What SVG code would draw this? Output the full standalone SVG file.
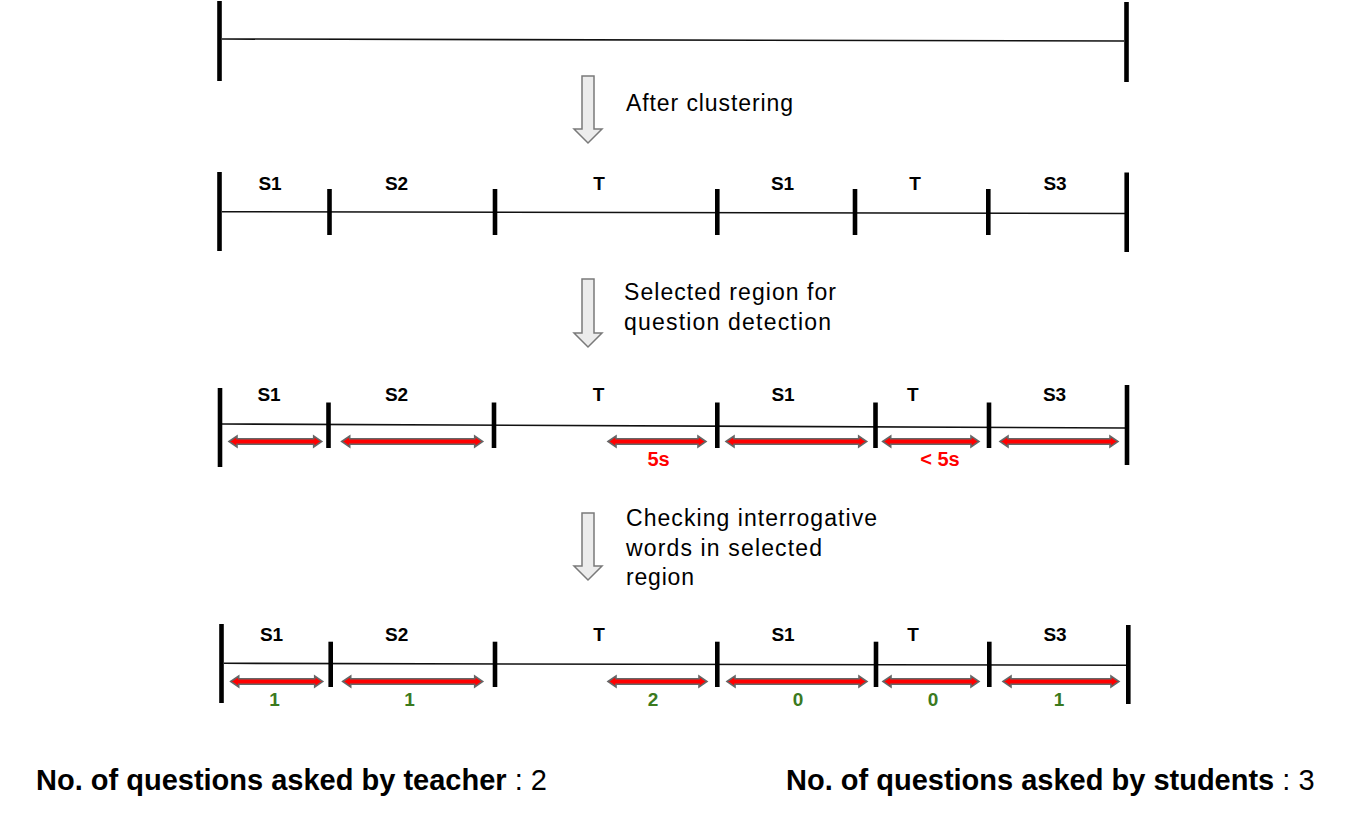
<svg xmlns="http://www.w3.org/2000/svg" width="1350" height="815" viewBox="0 0 1350 815">
<style>
.bar{stroke:#000;stroke-width:4.6;fill:none}
.ln{stroke:#111;stroke-width:1.6;fill:none}
.lab{font-family:"Liberation Sans",Arial,sans-serif;font-weight:bold;font-size:19px;fill:#000;text-anchor:middle}
.red{font-family:"Liberation Sans",Arial,sans-serif;font-weight:bold;font-size:20px;fill:#ff0000;text-anchor:middle}
.grn{font-family:"Liberation Sans",Arial,sans-serif;font-weight:bold;font-size:19px;fill:#3b7a1e;text-anchor:middle}
.step{font-family:"Liberation Sans",Arial,sans-serif;font-size:23px;fill:#000}
.down{fill:#ececec;stroke:#7a7a7a;stroke-width:1.5}
.dbl{fill:#ff0000;stroke:#666;stroke-width:1.6;stroke-linejoin:miter}
.sum{font-family:"Liberation Sans",Arial,sans-serif;font-size:29px;fill:#000}
</style>
<rect width="1350" height="815" fill="#fff"/>

<g id="timeline-raw">
<line class="ln" x1="222" y1="39" x2="1124" y2="41"/>
<line class="bar" x1="219.5" y1="1" x2="219.5" y2="81"/>
<line class="bar" x1="1126.5" y1="2" x2="1126.5" y2="82"/>
</g>

<g id="step-clustering">
<polygon class="down" points="582,76 594,76 594,129 602,129 588,143 574,129 582,129"/>
<text class="step" x="626" y="111" textLength="167" lengthAdjust="spacing">After clustering</text>
</g>

<g id="timeline-clustered">
<line class="ln" x1="222" y1="211.7" x2="1125" y2="213.5"/>
<line class="bar" x1="219.5" y1="172" x2="219.5" y2="251"/>
<line class="bar" x1="329.5" y1="189" x2="329.5" y2="235"/>
<line class="bar" x1="495" y1="189" x2="495" y2="235"/>
<line class="bar" x1="717.3" y1="189" x2="717.3" y2="235"/>
<line class="bar" x1="855" y1="189" x2="855" y2="235"/>
<line class="bar" x1="988.3" y1="189" x2="988.3" y2="235"/>
<line class="bar" x1="1126.7" y1="172.5" x2="1126.7" y2="252"/>
<text class="lab" x="270" y="190">S1</text>
<text class="lab" x="396.5" y="190">S2</text>
<text class="lab" x="599" y="190">T</text>
<text class="lab" x="782.5" y="190">S1</text>
<text class="lab" x="915" y="190">T</text>
<text class="lab" x="1055" y="190">S3</text>
</g>

<g id="step-selected">
<polygon class="down" points="582,279 594,279 594,333 602,333 588,347 574,333 582,333"/>
<text class="step" x="624" y="300" textLength="212" lengthAdjust="spacing">Selected region for</text>
<text class="step" x="624" y="330" textLength="207" lengthAdjust="spacing">question detection</text>
</g>

<g id="timeline-selected">
<line class="ln" x1="222" y1="424" x2="1125" y2="428"/>
<line class="bar" x1="220" y1="388" x2="220" y2="467"/>
<line class="bar" x1="328.5" y1="402.5" x2="328.5" y2="448"/>
<line class="bar" x1="494" y1="402.5" x2="494" y2="448"/>
<line class="bar" x1="717.3" y1="402.5" x2="717.3" y2="448"/>
<line class="bar" x1="875.5" y1="402.5" x2="875.5" y2="448"/>
<line class="bar" x1="989" y1="402.5" x2="989" y2="448"/>
<line class="bar" x1="1127" y1="385" x2="1127" y2="465"/>
<text class="lab" x="269" y="401">S1</text>
<text class="lab" x="396.5" y="401">S2</text>
<text class="lab" x="598.5" y="401">T</text>
<text class="lab" x="783" y="401">S1</text>
<text class="lab" x="912.7" y="401">T</text>
<text class="lab" x="1054.5" y="401">S3</text>
<polygon class="dbl" points="229,441.5 237,436 237,438.8 313.7,438.8 313.7,436 321.7,441.5 313.7,447 313.7,444.2 237,444.2 237,447"/>
<polygon class="dbl" points="341.7,441.5 349.7,436 349.7,438.8 474.7,438.8 474.7,436 482.7,441.5 474.7,447 474.7,444.2 349.7,444.2 349.7,447"/>
<polygon class="dbl" points="608,441.5 616,436 616,438.8 698,438.8 698,436 706,441.5 698,447 698,444.2 616,444.2 616,447"/>
<polygon class="dbl" points="726,441.5 734,436 734,438.8 858.7,438.8 858.7,436 866.7,441.5 858.7,447 858.7,444.2 734,444.2 734,447"/>
<polygon class="dbl" points="882.7,441.5 890.7,436 890.7,438.8 971,438.8 971,436 979,441.5 971,447 971,444.2 890.7,444.2 890.7,447"/>
<polygon class="dbl" points="1000,441.5 1008,436 1008,438.8 1110,438.8 1110,436 1118,441.5 1110,447 1110,444.2 1008,444.2 1008,447"/>
<text class="red" x="658.5" y="466">5s</text>
<text class="red" x="940" y="466">&lt; 5s</text>
</g>

<g id="step-checking">
<polygon class="down" points="582,513 594,513 594,566 602,566 588,580 574,566 582,566"/>
<text class="step" x="626" y="526" textLength="251" lengthAdjust="spacing">Checking interrogative</text>
<text class="step" x="626" y="556" textLength="196" lengthAdjust="spacing">words in selected</text>
<text class="step" x="626" y="585" textLength="68" lengthAdjust="spacing">region</text>
</g>

<g id="timeline-checked">
<line class="ln" x1="224" y1="663.3" x2="1126" y2="665.3"/>
<line class="bar" x1="221.5" y1="624" x2="221.5" y2="703"/>
<line class="bar" x1="330.7" y1="641.7" x2="330.7" y2="687"/>
<line class="bar" x1="495" y1="641.7" x2="495" y2="687"/>
<line class="bar" x1="717.3" y1="641.7" x2="717.3" y2="687"/>
<line class="bar" x1="876" y1="641.7" x2="876" y2="687"/>
<line class="bar" x1="989.3" y1="641.7" x2="989.3" y2="687"/>
<line class="bar" x1="1128.3" y1="625" x2="1128.3" y2="704"/>
<text class="lab" x="271.5" y="641">S1</text>
<text class="lab" x="396.7" y="641">S2</text>
<text class="lab" x="599" y="641">T</text>
<text class="lab" x="783" y="641">S1</text>
<text class="lab" x="913" y="641">T</text>
<text class="lab" x="1055" y="641">S3</text>
<polygon class="dbl" points="230.7,681.5 238.7,676 238.7,678.8 314.7,678.8 314.7,676 322.7,681.5 314.7,687 314.7,684.2 238.7,684.2 238.7,687"/>
<polygon class="dbl" points="342.7,681.5 350.7,676 350.7,678.8 474.7,678.8 474.7,676 482.7,681.5 474.7,687 474.7,684.2 350.7,684.2 350.7,687"/>
<polygon class="dbl" points="608,681.5 616,676 616,678.8 699,678.8 699,676 707,681.5 699,687 699,684.2 616,684.2 616,687"/>
<polygon class="dbl" points="727,681.5 735,676 735,678.8 859,678.8 859,676 867,681.5 859,687 859,684.2 735,684.2 735,687"/>
<polygon class="dbl" points="883,681.5 891,676 891,678.8 971,678.8 971,676 979,681.5 971,687 971,684.2 891,684.2 891,687"/>
<polygon class="dbl" points="1003,681.5 1011,676 1011,678.8 1111,678.8 1111,676 1119,681.5 1111,687 1111,684.2 1011,684.2 1011,687"/>
<text class="grn" x="274.5" y="706">1</text>
<text class="grn" x="409.5" y="706">1</text>
<text class="grn" x="653" y="706">2</text>
<text class="grn" x="798" y="706">0</text>
<text class="grn" x="933" y="706">0</text>
<text class="grn" x="1059" y="706">1</text>
</g>

<g id="summary-teacher">
<text class="sum" x="36" y="790"><tspan font-weight="bold">No. of questions asked by teacher</tspan> : 2</text>
</g>
<g id="summary-students">
<text class="sum" x="786" y="790"><tspan font-weight="bold">No. of questions asked by students</tspan> : 3</text>
</g>

<g id="connectors"></g>
</svg>
